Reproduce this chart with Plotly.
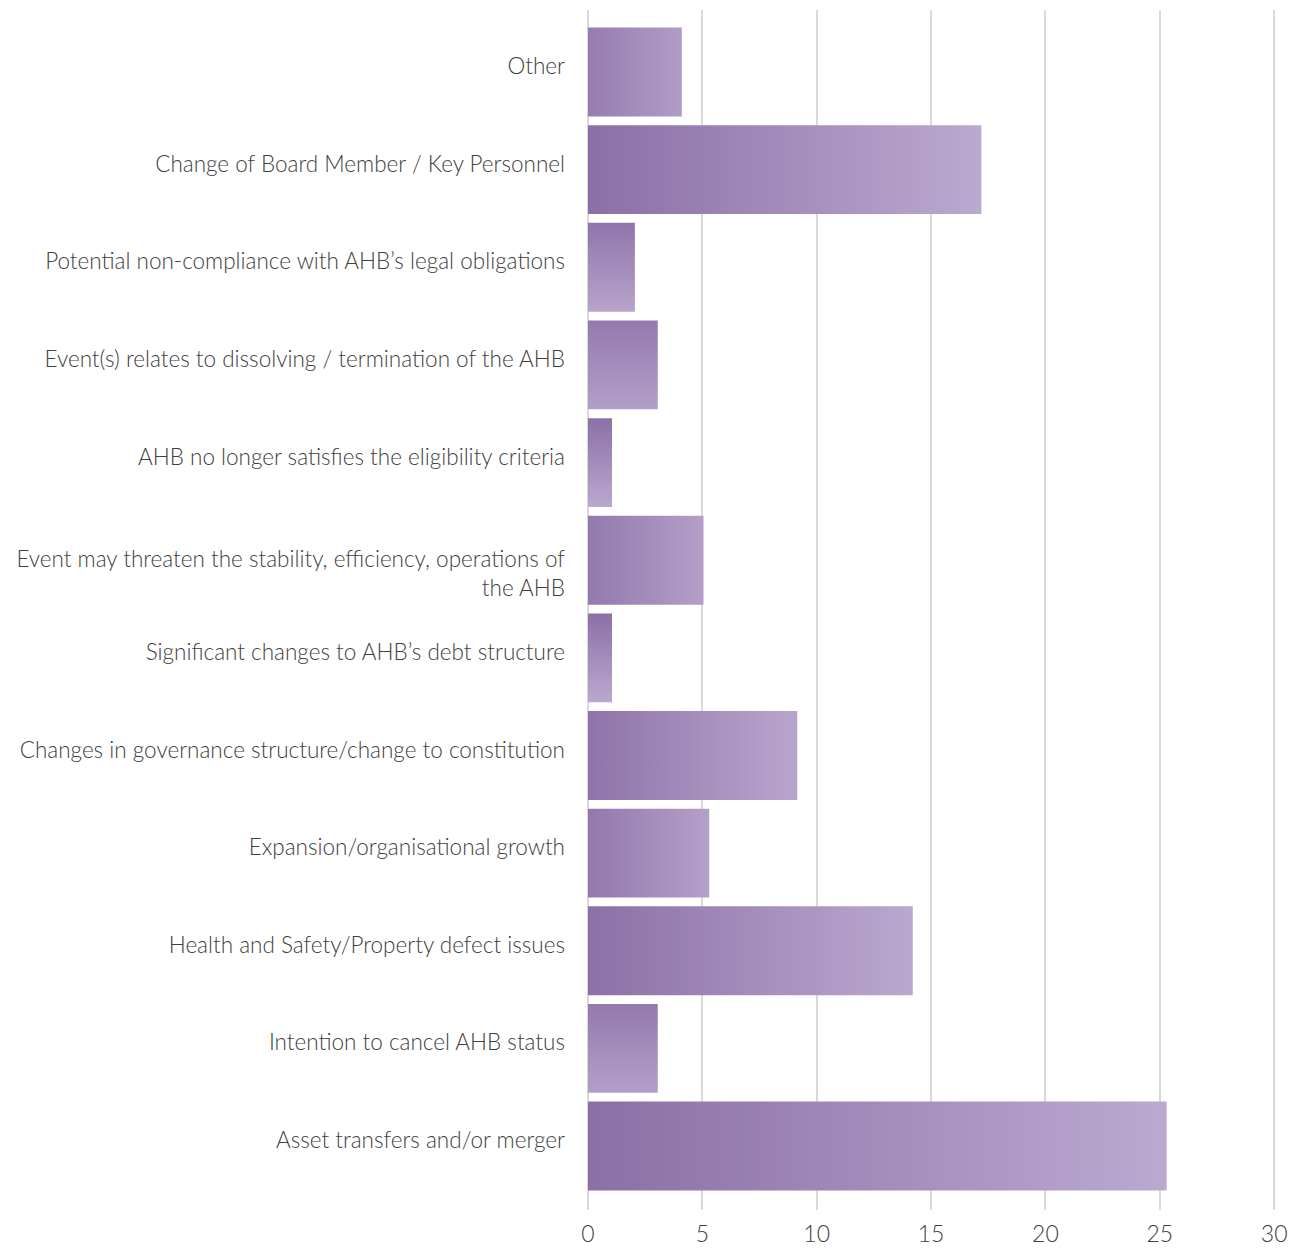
import plotly.graph_objects as go

categories = [
    "Asset transfers and/or merger",
    "Intention to cancel AHB status",
    "Health and Safety/Property defect issues",
    "Expansion/organisational growth",
    "Changes in governance structure/change to constitution",
    "Significant changes to AHB’s debt structure",
    "Event may threaten the stability, efficiency, operations of<br>the AHB",
    "AHB no longer satisfies the eligibility criteria",
    "Event(s) relates to dissolving / termination of the AHB",
    "Potential non-compliance with AHB’s legal obligations",
    "Change of Board Member / Key Personnel",
    "Other",
]
values = [25.3, 3.05, 14.2, 5.3, 9.15, 1.05, 5.05, 1.05, 3.05, 2.05, 17.2, 4.1]
x_ticks = [0, 5, 10, 15, 20, 25, 30]

HALF = 0.455
FONT = "Lato"
DARK = (0x8a, 0x6e, 0xa5)
LIGHT = (0xbc, 0xaa, 0xd0)
X_MAX = 30.3
PX_PER_UNIT = 693 / X_MAX
BAR_PX = 88.7
LABEL_NUDGE = 0.06        # single-line labels sit a little above bar centre
WRAPPED_NUDGE = -0.14     # wrapped label starts at bar centre


def mix(t):
    t = max(0.0, min(1.0, t))
    return "rgb(%d,%d,%d)" % tuple(round(a + (b - a) * t) for a, b in zip(DARK, LIGHT))


fig = go.Figure()
for i, (cat, v) in enumerate(zip(categories, values)):
    w = v * PX_PER_UNIT
    h = BAR_PX
    if w >= h:
        t0 = (h * h / 2) / (w * w + h * h)
        grad = dict(type="horizontal", colorscale=[[0, mix(t0)], [1, mix(1 - t0)]])
    else:
        t0 = (w * w / 2) / (w * w + h * h)
        grad = dict(type="vertical", colorscale=[[0, mix(1 - t0)], [1, mix(t0)]])
    fig.add_trace(go.Scatter(
        x=[0, v, v, 0, 0],
        y=[i - HALF, i - HALF, i + HALF, i + HALF, i - HALF],
        mode="none",
        fill="toself",
        fillgradient=grad,
        name=cat.replace("<br>", " "),
        hoverinfo="x+name",
        showlegend=False,
    ))

tick_pos = [i + (WRAPPED_NUDGE if "<br>" in c else LABEL_NUDGE)
            for i, c in enumerate(categories)]

fig.update_layout(
    width=1299, height=1241,
    margin=dict(l=580, r=26, t=2, b=39, autoexpand=False),
    plot_bgcolor="white", paper_bgcolor="white",
    font=dict(family=FONT, color="#404040", weight=300),
    xaxis=dict(range=[0, X_MAX], tickvals=x_ticks, ticktext=[str(t) for t in x_ticks],
               showgrid=True, gridcolor="#d9d9d9", gridwidth=1.5,
               zeroline=True, zerolinecolor="#d9d9d9", zerolinewidth=1.5,
               showline=False, ticks="", ticklabelstandoff=8, automargin=False,
               tickfont=dict(size=23, family=FONT, color="#404040", weight=300),
               fixedrange=True),
    yaxis=dict(range=[-0.655, 11.635], tickvals=tick_pos,
               ticktext=categories, showgrid=False, zeroline=False,
               showline=False, ticks="", ticklabelstandoff=22, automargin=False,
               tickfont=dict(size=22.5, family=FONT, color="#404040", weight=300),
               fixedrange=True),
)

fig.write_html("out.html")
